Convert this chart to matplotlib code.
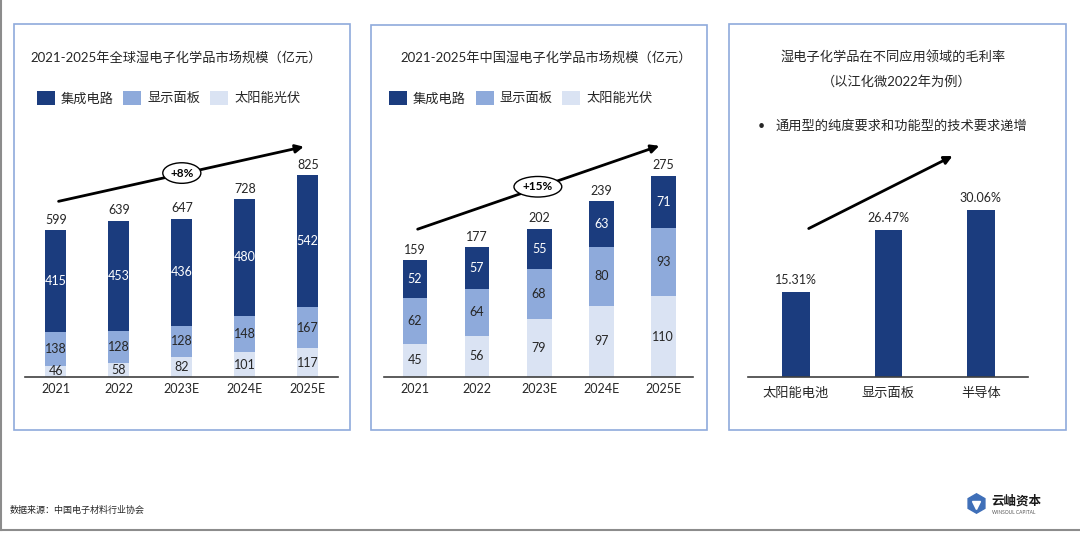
import numpy as np
import matplotlib.pyplot as plt
from matplotlib.patches import Rectangle
from matplotlib.lines import Line2D

plt.rcParams['font.family'] = ['Lato', 'Noto Sans CJK SC', 'DejaVu Sans']

# Data
years = ["2021", "2022", "2023E", "2024E", "2025E"]
global_ic = [415, 453, 436, 480, 542]
global_panel = [138, 128, 128, 148, 167]
global_solar = [46, 58, 82, 101, 117]
global_total = [599, 639, 647, 728, 825]

china_ic = [52, 57, 55, 63, 71]
china_panel = [62, 64, 68, 80, 93]
china_solar = [45, 56, 79, 97, 110]
china_total = [159, 177, 202, 239, 275]

margin_fields = ["太阳能电池", "显示面板", "半导体"]
margin_values = [15.31, 26.47, 30.06]

series_names = ["集成电路", "显示面板", "太阳能光伏"]

DARK = "#1B3C7E"
MID = "#8EAADB"
LIGHT = "#DAE3F3"
BOX = "#8FAADC"
TXT = "#262626"

W, H = 1080, 533
fig = plt.figure(figsize=(W / 100, H / 100), dpi=100)
fig.patch.set_facecolor("white")


def fx(x):
    return x / W


def fy(y):
    return 1 - y / H


def make_axes(left, right, base, top, px_per_unit):
    ax = fig.add_axes([fx(left), fy(base), (right - left) / W, (base - top) / H])
    ax.set_ylim(0, (base - top) / px_per_unit)
    for s in ["top", "right", "left"]:
        ax.spines[s].set_visible(False)
    ax.spines["bottom"].set_color("#404040")
    ax.spines["bottom"].set_linewidth(1.2)
    ax.set_yticks([])
    ax.tick_params(axis="x", length=0, labelsize=9, colors=TXT)
    ax.patch.set_alpha(0)
    return ax


def panel_box(x0, y0, x1, y1):
    fig.add_artist(Rectangle((fx(x0), fy(y1)), (x1 - x0) / W, (y1 - y0) / H,
                             transform=fig.transFigure, fill=False,
                             ec=BOX, lw=1.2))


def legend_row(x_positions, y):
    colors = [DARK, MID, LIGHT]
    for (sx, name), c in zip(zip(x_positions, series_names), colors):
        fig.add_artist(Rectangle((fx(sx), fy(y + 7)), 18 / W, 14 / H,
                                 transform=fig.transFigure, fc=c, ec="none"))
        fig.text(fx(sx + 24), fy(y), name, fontsize=9.5, va="center",
                 ha="left", color=TXT)


def stacked(ax, ic, panel, solar, total, width, offset):
    x = np.arange(len(years))
    b1 = ax.bar(x, solar, width, color=LIGHT)
    b2 = ax.bar(x, panel, width, bottom=solar, color=MID)
    bottom_ic = np.array(solar) + np.array(panel)
    b3 = ax.bar(x, ic, width, bottom=bottom_ic, color=DARK)
    ax.bar_label(b1, labels=[str(v) for v in solar], label_type="center",
                 fontsize=9, color=TXT)
    ax.bar_label(b2, labels=[str(v) for v in panel], label_type="center",
                 fontsize=9, color=TXT)
    ax.bar_label(b3, labels=[str(v) for v in ic], label_type="center",
                 fontsize=9, color="white")
    for xi, t in zip(x, total):
        ax.annotate(str(t), (xi, t), xytext=(0, offset), textcoords="offset points",
                    ha="center", va="bottom", fontsize=9, color=TXT)
    ax.set_xticks(x)
    ax.set_xticklabels(years)
    ax.tick_params(axis="x", pad=4)


# Panel boxes
panel_box(14, 24, 350, 430)
panel_box(371, 25, 707, 430)
panel_box(729, 24, 1066, 430)

# Panel 1: global market
ax1 = make_axes(25, 338, 377, 130, 202 / 825)
stacked(ax1, global_ic, global_panel, global_solar, global_total, 0.33, 3)
ax1.set_xlim(-0.49, 4.48)
ax1.annotate("", xy=(3.98, 943), xytext=(0.0, 715),
             arrowprops=dict(arrowstyle="-|>", color="black", lw=2,
                             mutation_scale=12), annotation_clip=False)
ax1.text(2.0, 833, "+8%", ha="center", va="center", fontsize=8.5,
         fontweight="bold", color="black",
         bbox=dict(boxstyle="ellipse,pad=0.15", fc="white", ec="black", lw=1))
fig.text(fx(30), fy(57), "2021-2025年全球湿电子化学品市场规模（亿元）",
         fontsize=9.5, va="center", ha="left", color=TXT)
legend_row([37, 123, 210], 98)

# Panel 2: China market
ax2 = make_axes(384, 693, 377, 130, 202 / 275)
stacked(ax2, china_ic, china_panel, china_solar, china_total, 0.4, 3)
ax2.set_xlim(-0.5, 4.48)
ax2.annotate("", xy=(3.98, 316), xytext=(0.0, 200),
             arrowprops=dict(arrowstyle="-|>", color="black", lw=2,
                             mutation_scale=12), annotation_clip=False)
ax2.text(1.98, 259, "+15%", ha="center", va="center", fontsize=8.5,
         fontweight="bold", color="black",
         bbox=dict(boxstyle="ellipse,pad=0.15", fc="white", ec="black", lw=1))
fig.text(fx(400), fy(57), "2021-2025年中国湿电子化学品市场规模（亿元）",
         fontsize=9.5, va="center", ha="left", color=TXT)
legend_row([389, 476, 562], 98)

# Panel 3: gross margin
ax3 = make_axes(748, 1028, 377, 130, 167 / 30.06)
xm = np.arange(len(margin_fields))
bars = ax3.bar(xm, margin_values, 0.3, color=DARK)
ax3.bar_label(bars, labels=[f"{v:.2f}%" for v in margin_values], padding=4,
              fontsize=9, color=TXT)
ax3.set_xlim(-0.52, 2.51)
ax3.set_xticks(xm)
ax3.set_xticklabels(margin_fields)
ax3.tick_params(axis="x", pad=7, labelsize=9.5)
ax3.annotate("", xy=(1.72, 40), xytext=(0.11, 26.5),
             arrowprops=dict(arrowstyle="-|>", color="black", lw=2,
                             mutation_scale=12), annotation_clip=False)
fig.text(fx(893), fy(56), "湿电子化学品在不同应用领域的毛利率",
         fontsize=9.5, va="center", ha="center", color=TXT)
fig.text(fx(897), fy(81), "（以江化微2022年为例）",
         fontsize=9.5, va="center", ha="center", color=TXT)
fig.text(fx(758), fy(126), "•", fontsize=9, va="center", ha="left", color=TXT)
fig.text(fx(775), fy(126), "通用型的纯度要求和功能型的技术要求递增",
         fontsize=9.5, va="center", ha="left", color=TXT)

# Page frame lines
fig.add_artist(Line2D([fx(1), fx(1)], [fy(0), fy(530)], transform=fig.transFigure,
                      color="#8C8C8C", lw=1.5))
fig.add_artist(Line2D([fx(0), fx(W)], [fy(530), fy(530)], transform=fig.transFigure,
                      color="#8C8C8C", lw=1.5))

# Footer
fig.text(fx(10), fy(510), "数据来源：中国电子材料行业协会", fontsize=6.5,
         va="center", ha="left", color=TXT)
fig.add_artist(Line2D([fx(976)], [fy(503)], transform=fig.transFigure,
                      marker="h", markersize=14, color="#3F6FB8", lw=0))
fig.add_artist(Line2D([fx(976)], [fy(505)], transform=fig.transFigure,
                      marker="v", markersize=6, color="white", lw=0))
fig.text(fx(991), fy(500), "云岫资本", fontsize=9, fontweight="bold",
         va="center", ha="left", color="#1A1A1A")
fig.text(fx(992), fy(512), "WINSOUL CAPITAL", fontsize=3.5,
         va="center", ha="left", color="#555555")

fig.savefig("out.png", dpi=100, facecolor="white")
